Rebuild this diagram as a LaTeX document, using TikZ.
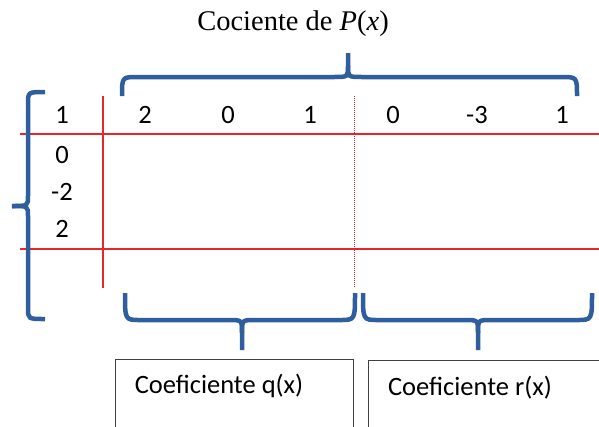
\documentclass[tikz,border=0pt]{standalone}
\usepackage{fontspec}
\setmainfont{Carlito}
\newfontfamily\titlefont{Liberation Serif}
\usetikzlibrary{positioning}
\definecolor{bracecol}{RGB}{46,94,158}
\definecolor{gridred}{RGB}{232,38,42}

\begin{document}
\begin{tikzpicture}[x=1pt,y=-1pt,every node/.style={inner sep=0pt,font=\fontsize{26.5}{31}\selectfont},
  brace/.style={draw=bracecol,line width=4.5pt},
  redline/.style={draw=gridred,line width=2.6pt},
  coefbox/.style={draw=black!75,line width=0.9pt}]
  \useasboundingbox (0,0) rectangle (599,426);
  \clip (0,0) rectangle (599,426);

  % title
  \node (title) at (293,24) {\titlefont\fontsize{28.5}{34}\selectfont Cociente de \textit{P}(\textit{x})};

  % grid
  \draw[redline] (20,134) -- (599,134);
  \draw[redline] (20,249) -- (599,249);
  \draw[redline] (103,96) -- (103,288);
  \draw[gridred,line width=0.9pt,dash pattern=on 1pt off 1pt] (354,96) -- (354,288);

  % coefficients
  \node (r0) at (62,115) {1};
  \node (c1) at (145,115) {2};
  \node (c2) at (228,115) {0};
  \node (c3) at (310,115) {1};
  \node (c4) at (393,115) {0};
  \node (c5) at (477,115) {-3};
  \node (c6) at (562,115) {1};

  \node (m1) at (62,155) {0};
  \node (m2) at (62,192) {-2};
  \node (m3) at (62,229) {2};

  % braces
  \draw[brace] (122,96) .. controls (122,77) .. (138,77) -- (334,77) .. controls (348,77) .. (348,66) -- (348,53);
  \draw[brace] (577,96) .. controls (577,77) .. (561,77) -- (362,77) .. controls (348,77) .. (348,66);
  \draw[brace] (45,92) .. controls (28,92) .. (28,104) -- (28,196) .. controls (28,206) .. (12,206);
  \draw[brace] (12,206) .. controls (28,206) .. (28,216) -- (28,308) .. controls (28,319) .. (45,319);
  \draw[brace] (125,293) .. controls (125,320) .. (140,320) -- (229,320) .. controls (242,320) .. (242,333) -- (242,350);
  \draw[brace] (355,293) .. controls (355,320) .. (340,320) -- (255,320) .. controls (242,320) .. (242,333);
  \draw[brace] (363,293) .. controls (363,320) .. (378,320) -- (465,320) .. controls (478,320) .. (478,333) -- (478,350);
  \draw[brace] (592,293) .. controls (592,320) .. (577,320) -- (491,320) .. controls (478,320) .. (478,333);

  % boxes
  \draw[coefbox] (115,359) rectangle (353,440);
  \draw[coefbox] (368,360) rectangle (610,440);
  \node (qtext) at (219,386) {Coeficiente q(x)};
  \node (rtext) at (470,388) {Coeficiente r(x)};
\end{tikzpicture}
\end{document}
